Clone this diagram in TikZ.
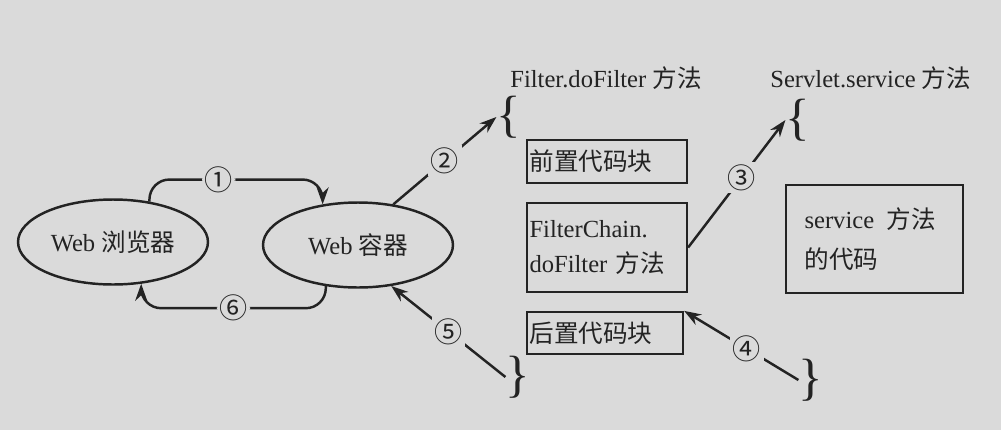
\documentclass[tikz,border=0pt]{standalone}
\usepackage{fontspec}
\setmainfont{Liberation Serif}
\newfontfamily\cjk{Noto Sans CJK SC}
\usetikzlibrary{arrows.meta,shapes.geometric}
\definecolor{bgc}{RGB}{218,218,218}
\definecolor{ink}{RGB}{35,35,35}
\tikzset{
 ell/.style={ellipse,draw=ink,line width=1.4pt,inner sep=0pt,minimum width=3.8cm,minimum height=1.7cm},
 box/.style={rectangle,draw=ink,line width=1.3pt,inner ysep=0pt,inner xsep=0.05cm,align=left},
 arr/.style={draw=ink,line width=1.4pt,-{Stealth[length=0.34cm,width=0.24cm]}},
 lab/.style={fill=bgc,inner sep=1.5pt,font=\cjk\fontsize{16}{16}\selectfont},
 brc/.style={inner sep=0pt,font=\fontsize{29}{29}\selectfont},
 ttl/.style={inner sep=0pt,anchor=west},
}
\begin{document}
\begin{tikzpicture}[x=0.02cm,y=-0.02cm,font=\fontsize{14}{17}\selectfont,text=ink]
\fill[bgc] (0,0) rectangle (1001,430);
% ellipses
\node[ell] (e1) at (113,242) {Web {\cjk 浏览器}};
\node[ell] (e2) at (358,245) {Web {\cjk 容器}};
% titles
\node[ttl] (t1) at (510,78) {Filter.doFilter {\cjk 方法}};
\node[ttl] (t2) at (770,78) {Servlet.service {\cjk 方法}};
% braces
\node[brc] (b1) at (509,117) {\{};
\node[brc] (b2) at (798,120) {\{};
\node[brc] (b3) at (518,377) {\}};
\node[brc] (b4) at (811,380) {\}};
% boxes
\node[box,minimum width=3.2cm,minimum height=0.86cm,text width=3.1cm] (pre) at (607,161.5) {\cjk 前置代码块};
\node[box,minimum width=3.2cm,minimum height=1.78cm,text width=3.1cm,font=\fontsize{14}{20}\selectfont] (fc) at (607,247.5) {FilterChain.\\doFilter {\cjk 方法}};
\node[box,minimum width=3.12cm,minimum height=0.84cm,text width=3.02cm] (post) at (605,333) {\cjk 后置代码块};
\node[box,minimum width=3.54cm,minimum height=2.16cm,inner xsep=0.37cm,text width=2.8cm,font=\fontsize{14}{23}\selectfont] (svc) at (874.5,239) {service\enspace{\cjk 方法}\\{\cjk 的代码}};
% connectors
\draw[arr,rounded corners=0.4cm] (e1.48) -- ++(0,-22) -| node[lab,pos=0.2] (n1) {①} (e2.131);
\draw[arr,rounded corners=0.4cm] (e2.232) -- ++(0,22) -| node[lab,pos=0.25] (n6) {⑥} (e1.304);
\draw[arr] (e2.49) -- node[lab] (n2) {②} (b1.west);
\draw[arr] (fc.east) -- node[lab,pos=0.55] (n3) {③} (b2.west);
\draw[arr] (b4.west) -- node[lab,pos=0.45] (n4) {④} (post.north east);
\draw[arr] (b3.west) -- node[lab] (n5) {⑤} (e2.309);
\end{tikzpicture}
\end{document}
